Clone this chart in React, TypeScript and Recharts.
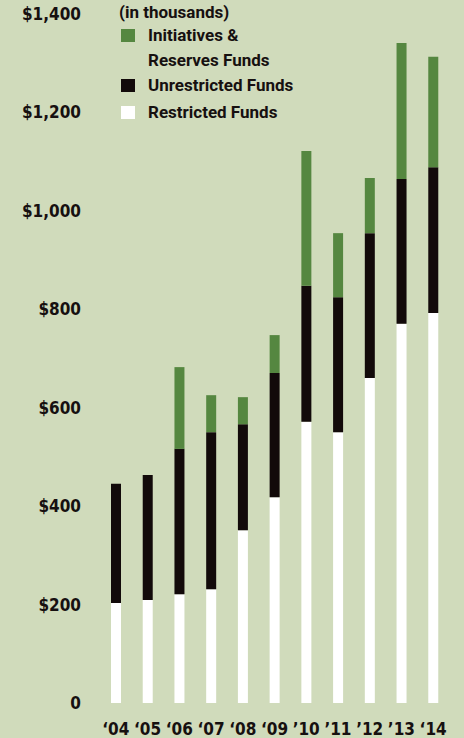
import React from 'react';
import { BarChart, Bar, XAxis, YAxis, Legend } from 'recharts';

const years = ['\u201804', '\u201805', '\u201806', '\u201807', '\u201808', '\u201809', '\u201910', '\u201911', '\u201912', '\u201913', '\u201814'];
const restrictedFunds = [203, 209, 221, 231, 351, 418, 571, 550, 660, 770, 792];
const unrestrictedFunds = [242, 254, 295, 319, 215, 252, 276, 274, 294, 294, 296];
const initiativesFunds = [0, 0, 166, 75, 55, 77, 274, 130, 112, 276, 224];
const yTicks = [0, 200, 400, 600, 800, 1000, 1200, 1400];

const BG = '#d0dbbb';
const GREEN = '#558740';
const BLACK = '#120a0a';
const WHITE = '#ffffff';
const TEXT = '#161010';

const data = years.map((year, i) => ({
  year,
  restricted: restrictedFunds[i],
  unrestricted: unrestrictedFunds[i],
  initiatives: initiativesFunds[i],
}));

const legendItems = [
  { lines: ['Initiatives &', 'Reserves Funds'], color: GREEN },
  { lines: ['Unrestricted Funds'], color: BLACK },
  { lines: ['Restricted Funds'], color: WHITE },
];

const legendFont: React.CSSProperties = {
  fontFamily: 'Roboto, sans-serif',
  fontWeight: 700,
  fontSize: 17,
  color: TEXT,
  lineHeight: '20px',
  whiteSpace: 'nowrap',
};

const LegendContent = () => {
  const rowTops = [25, 75, 102];
  return (
    <div style={{ position: 'relative', width: 340, height: 130 }}>
      <div style={{ ...legendFont, position: 'absolute', left: 119, top: 2 }}>(in thousands)</div>
      {legendItems.map((it, i) => (
        <div key={i} style={{ position: 'absolute', left: 121, top: rowTops[i] }}>
          <div style={{ position: 'absolute', left: 0, top: 4, width: 14, height: 13, background: it.color }} />
          <div style={{ position: 'absolute', left: 27, top: 0 }}>
            {it.lines.map((l, j) => (
              <div key={j} style={{ ...legendFont, height: j === 0 ? 25 : 20 }}>{l}</div>
            ))}
          </div>
        </div>
      ))}
    </div>
  );
};

const tickStyle = {
  fontFamily: '"DejaVu Sans Condensed", "DejaVu Sans", sans-serif',
  fontWeight: 700,
  fontSize: 17,
  fill: TEXT,
};

const fmtY = (v: number) => (v === 0 ? '0' : '$' + v.toLocaleString('en-US'));

export default function App() {
  return (
    <div style={{ position: 'absolute', left: 0, top: 0, width: 464, height: 738, background: BG, overflow: 'hidden' }}>
      <BarChart
        width={464}
        height={738}
        data={data}
        margin={{ top: 13.5, right: 15, bottom: 0, left: 0 }}
        barSize={10}
      >
        <XAxis
          dataKey="year"
          axisLine={false}
          tickLine={false}
          tickSize={0}
          tickMargin={20}
          height={35}
          interval={0}
          tick={tickStyle}
        />
        <YAxis
          type="number"
          domain={[0, 1400]}
          ticks={yTicks}
          tickFormatter={fmtY}
          axisLine={false}
          tickLine={false}
          tickSize={0}
          tickMargin={19}
          width={100}
          interval={0}
          tick={tickStyle}
        />
        <Legend
          layout="vertical"
          align="center"
          verticalAlign="middle"
          content={<LegendContent />}
          wrapperStyle={{ top: 0, left: 0, width: 340, height: 130 }}
        />
        <Bar dataKey="restricted" stackId="a" fill={WHITE} isAnimationActive={false} />
        <Bar dataKey="unrestricted" stackId="a" fill={BLACK} isAnimationActive={false} />
        <Bar dataKey="initiatives" stackId="a" fill={GREEN} isAnimationActive={false} />
      </BarChart>
    </div>
  );
}
